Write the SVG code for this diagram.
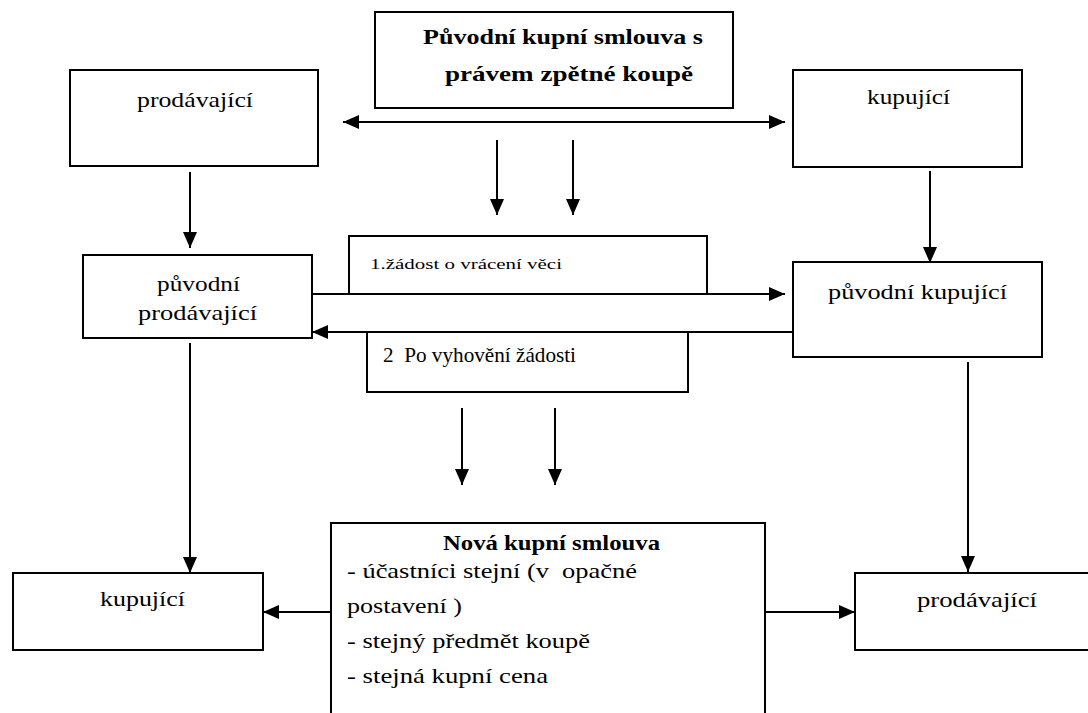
<svg xmlns="http://www.w3.org/2000/svg" width="1088" height="713" viewBox="0 0 1088 713">
<style>
.box{fill:#fff;stroke:#000;stroke-width:2}
.t{font-family:"Liberation Serif","DejaVu Serif","Times New Roman",serif;font-size:22px;fill:#000}
.b{font-weight:bold}
.s{font-size:15px}
.c{stroke:#000;stroke-width:2;fill:none}
</style>
<defs>
<marker id="ah" markerUnits="userSpaceOnUse" markerWidth="16" markerHeight="14" viewBox="0 0 16 14" refX="16" refY="7" orient="auto-start-reverse">
<path d="M0,0 L16,7 L0,14 z" fill="#000"/>
</marker>
</defs>
<rect width="1088" height="713" fill="#fff"/>
<g id="connectors">
<line class="c" x1="343" y1="122" x2="785" y2="122" marker-start="url(#ah)" marker-end="url(#ah)"/>
<line class="c" x1="497" y1="140" x2="497" y2="215" marker-end="url(#ah)"/>
<line class="c" x1="573" y1="140" x2="573" y2="215" marker-end="url(#ah)"/>
<line class="c" x1="190" y1="172" x2="190" y2="248" marker-end="url(#ah)"/>
<line class="c" x1="930" y1="171" x2="930" y2="263" marker-end="url(#ah)"/>
<line class="c" x1="312" y1="294" x2="785" y2="294" marker-end="url(#ah)"/>
<line class="c" x1="793" y1="332" x2="312" y2="332" marker-end="url(#ah)"/>
<line class="c" x1="462" y1="408" x2="462" y2="485" marker-end="url(#ah)"/>
<line class="c" x1="555" y1="408" x2="555" y2="485" marker-end="url(#ah)"/>
<line class="c" x1="190" y1="343" x2="190" y2="573" marker-end="url(#ah)"/>
<line class="c" x1="968" y1="362" x2="968" y2="572" marker-end="url(#ah)"/>
<line class="c" x1="340" y1="612" x2="263" y2="612" marker-end="url(#ah)"/>
<line class="c" x1="760" y1="612" x2="855" y2="612" marker-end="url(#ah)"/>
</g>
<g id="puvodni-smlouva">
<rect class="box" x="375" y="12" width="358" height="96"/>
<text class="t b" x="423" y="44" textLength="280" lengthAdjust="spacingAndGlyphs">Původní kupní smlouva s</text>
<text class="t b" x="445" y="81" textLength="248" lengthAdjust="spacingAndGlyphs">právem zpětné koupě</text>
</g>
<g id="prodavajici-top">
<rect class="box" x="70" y="70" width="248" height="96"/>
<text class="t" x="137" y="107" textLength="116" lengthAdjust="spacingAndGlyphs">prodávající</text>
</g>
<g id="kupujici-top">
<rect class="box" x="793" y="70" width="229" height="97"/>
<text class="t" x="867" y="104" textLength="83" lengthAdjust="spacingAndGlyphs">kupující</text>
</g>
<g id="zadost">
<rect class="box" x="349" y="236" width="358" height="58"/>
<text class="t s" x="370" y="269" textLength="192" lengthAdjust="spacingAndGlyphs">1.žádost o vrácení věci</text>
</g>
<g id="vyhoveni">
<rect class="box" x="367" y="332" width="321" height="60"/>
<text class="t" x="383" y="362" font-size="16" xml:space="preserve" textLength="193" lengthAdjust="spacingAndGlyphs">2  Po vyhovění žádosti</text>
</g>
<g id="puvodni-prodavajici">
<rect class="box" x="83" y="255" width="229" height="83"/>
<text class="t" x="157" y="291" textLength="83" lengthAdjust="spacingAndGlyphs">původní</text>
<text class="t" x="138" y="320" textLength="119" lengthAdjust="spacingAndGlyphs">prodávající</text>
</g>
<g id="puvodni-kupujici">
<rect class="box" x="793" y="262" width="249" height="95"/>
<text class="t" x="828" y="299" textLength="179" lengthAdjust="spacingAndGlyphs">původní kupující</text>
</g>
<g id="kupujici-bottom">
<rect class="box" x="13" y="573" width="250" height="77"/>
<text class="t" x="100" y="606" textLength="85" lengthAdjust="spacingAndGlyphs">kupující</text>
</g>
<g id="prodavajici-bottom">
<rect class="box" x="855" y="573" width="260" height="77"/>
<text class="t" x="917" y="607" textLength="120" lengthAdjust="spacingAndGlyphs">prodávající</text>
</g>
<g id="nova-smlouva">
<rect class="box" x="331" y="523" width="434" height="220"/>
<text class="t b" x="443" y="550" textLength="217" lengthAdjust="spacingAndGlyphs">Nová kupní smlouva</text>
<text class="t" x="347" y="578" xml:space="preserve" textLength="290" lengthAdjust="spacingAndGlyphs">- účastníci stejní (v  opačné</text>
<text class="t" x="347" y="613" textLength="115" lengthAdjust="spacingAndGlyphs">postavení )</text>
<text class="t" x="347" y="648" textLength="243" lengthAdjust="spacingAndGlyphs">- stejný předmět koupě</text>
<text class="t" x="347" y="683" textLength="201" lengthAdjust="spacingAndGlyphs">- stejná kupní cena</text>
</g>
</svg>
